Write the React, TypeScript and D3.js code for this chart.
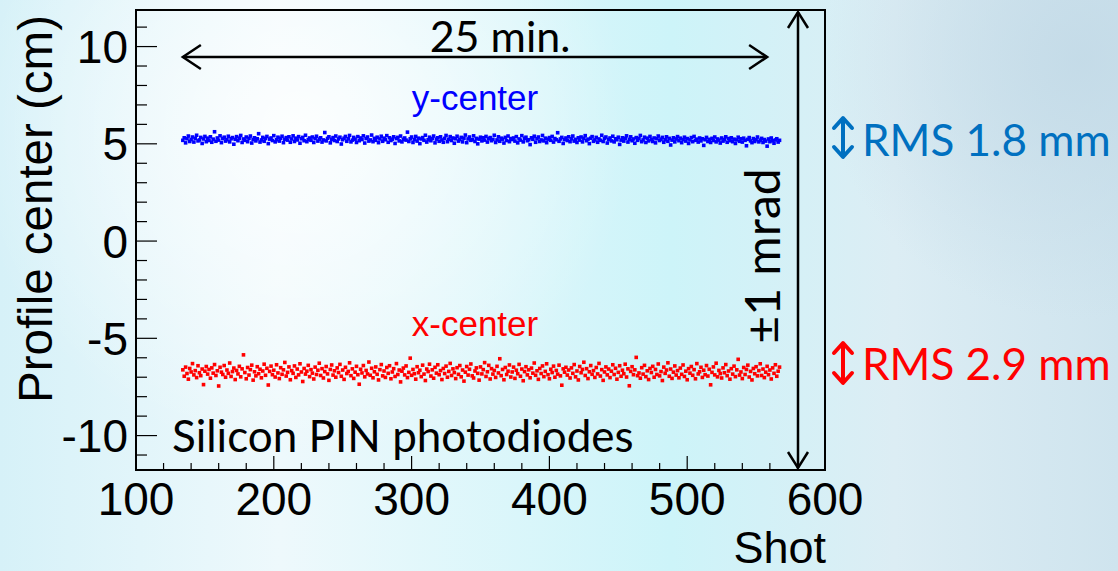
import React from 'react';
import * as d3 from 'd3';

const firstShot = 134;

const yCenter = [
  5.18, 5.31, 5.05, 5.26, 5.40, 5.12, 5.22, 5.35, 5.09, 5.28, 5.44, 5.15, 5.20, 5.33, 5.02, 5.25, 5.38, 5.11, 5.29, 5.17,
  5.36, 5.08, 5.24, 5.62, 5.13, 5.30, 5.19, 5.41, 5.06, 5.27, 5.34, 5.14, 5.21, 5.39, 5.10, 5.26, 5.32, 4.98, 5.23, 5.37,
  5.16, 5.29, 5.43, 5.07, 5.25, 5.18, 5.35, 5.11, 5.28, 5.40, 5.04, 5.22, 5.31, 5.15, 5.26, 5.52, 5.09, 5.20, 5.33, 5.13,
  5.27, 5.38, 5.01, 5.24, 5.30, 5.17, 5.42, 5.10, 5.21, 5.34, 5.14, 5.28, 5.39, 5.06, 5.23, 5.32, 5.19, 5.36, 5.08, 5.25,
  5.41, 5.12, 5.29, 5.20, 5.37, 5.03, 5.26, 5.33, 5.16, 5.44, 5.11, 5.22, 5.30, 5.18, 5.35, 5.07, 5.27, 5.39, 5.14, 5.24,
  5.31, 5.09, 5.20, 5.58, 5.15, 5.28, 5.36, 5.05, 5.23, 5.32, 5.17, 5.40, 5.12, 5.25, 5.34, 4.99, 5.21, 5.29, 5.38, 5.13,
  5.26, 5.43, 5.10, 5.19, 5.33, 5.24, 5.07, 5.37, 5.16, 5.30, 5.22, 5.41, 5.04, 5.27, 5.35, 5.14, 5.20, 5.45, 5.11, 5.28,
  5.18, 5.34, 5.06, 5.25, 5.39, 5.13, 5.29, 5.21, 5.42, 5.08, 5.31, 5.17, 5.24, 5.36, 5.02, 5.27, 5.33, 5.15, 5.40, 5.10,
  5.23, 5.30, 5.19, 5.60, 5.12, 5.26, 5.35, 5.07, 5.22, 5.38, 5.14, 5.29, 5.01, 5.25, 5.32, 5.18, 5.44, 5.09, 5.21, 5.34,
  5.16, 5.27, 5.40, 5.05, 5.24, 5.31, 5.13, 5.36, 5.20, 5.08, 5.28, 5.43, 5.11, 5.23, 5.37, 5.17, 5.30, 5.03, 5.26, 5.39,
  5.14, 5.22, 5.33, 5.10, 5.29, 5.45, 5.06, 5.25, 5.35, 5.18, 5.21, 5.41, 5.12, 5.28, 5.00, 5.24, 5.34, 5.15, 5.31, 5.19,
  5.38, 5.09, 5.26, 5.32, 5.16, 5.23, 5.44, 5.07, 5.20, 5.36, 5.13, 5.29, 5.24, 5.04, 5.33, 5.17, 5.40, 5.11, 5.27, 5.22,
  5.30, 5.14, 5.37, 5.05, 5.25, 5.19, 5.42, 5.10, 5.28, 5.34, 5.16, 5.21, 4.96, 5.31, 5.23, 5.39, 5.08, 5.26, 5.35, 5.12,
  5.20, 5.43, 5.15, 5.29, 5.06, 5.24, 5.32, 5.18, 5.38, 5.09, 5.27, 5.21, 5.57, 5.13, 5.25, 5.33, 5.02, 5.22, 5.30, 5.17,
  5.36, 5.11, 5.26, 5.40, 5.14, 5.23, 5.07, 5.31, 5.19, 5.35, 5.10, 5.28, 5.42, 5.16, 5.24, 5.01, 5.29, 5.37, 5.13, 5.20,
  5.33, 5.08, 5.25, 5.18, 5.44, 5.12, 5.27, 5.35, 5.04, 5.22, 5.30, 5.15, 5.39, 5.10, 5.26, 5.21, 5.34, 4.97, 5.19, 5.31,
  5.14, 5.28, 5.41, 5.09, 5.23, 5.36, 5.16, 5.25, 5.03, 5.32, 5.18, 5.27, 5.43, 5.11, 5.20, 5.34, 5.07, 5.29, 5.15, 5.38,
  5.22, 5.12, 5.30, 5.05, 5.26, 5.40, 5.17, 5.24, 5.33, 5.08, 5.21, 5.36, 5.13, 5.28, 4.94, 5.19, 5.31, 5.10, 5.25, 5.37,
  5.16, 5.29, 5.06, 5.22, 5.34, 5.14, 5.27, 5.02, 5.20, 5.32, 5.11, 5.38, 5.18, 5.24, 5.09, 5.30, 5.15, 5.26, 4.92, 5.21,
  5.33, 5.12, 5.23, 5.07, 5.28, 5.17, 5.35, 5.10, 5.25, 5.19, 5.04, 5.30, 5.14, 5.22, 5.36, 5.08, 5.27, 5.16, 5.31, 5.11,
  5.24, 5.02, 5.20, 5.34, 5.13, 5.26, 5.09, 5.29, 5.18, 4.90, 5.23, 5.32, 5.15, 5.06, 5.27, 5.12, 5.21, 5.35, 5.10, 5.19,
  5.28, 5.07, 5.22, 5.14, 4.88, 5.25, 5.11, 5.30, 5.16, 5.03, 5.20, 5.26, 5.09, 5.18,
];

const xCenter = [
  -6.62, -6.95, -6.48, -6.81, -7.10, -6.55, -6.73, -6.30, -6.88, -6.66, -7.02, -6.41, -6.77, -6.92, -6.58, -7.38, -6.69, -6.45, -6.84, -6.60,
  -7.05, -6.52, -6.79, -6.35, -6.91, -6.67, -7.45, -6.49, -6.74, -6.86, -6.40, -7.00, -6.63, -6.80, -6.27, -6.96, -6.71, -6.53, -7.12, -6.65,
  -6.83, -6.44, -6.98, -6.57, -5.85, -6.76, -7.08, -6.50, -6.89, -6.61, -6.38, -7.15, -6.72, -6.93, -6.46, -6.82, -6.59, -7.03, -6.68, -6.33,
  -6.90, -6.54, -7.40, -6.70, -6.43, -6.87, -6.64, -6.99, -6.36, -6.78, -7.07, -6.51, -6.85, -6.62, -6.24, -6.94, -6.75, -6.47, -7.13, -6.66,
  -6.80, -6.42, -7.01, -6.58, -6.88, -6.31, -6.73, -7.22, -6.55, -6.84, -6.69, -6.39, -6.97, -6.61, -6.79, -7.09, -6.48, -6.86, -6.64, -6.28,
  -6.91, -6.56, -7.04, -6.71, -6.45, -6.83, -7.16, -6.60, -6.37, -6.89, -6.67, -7.00, -6.52, -6.76, -6.34, -6.95, -6.63, -7.11, -6.49, -6.81,
  -6.70, -6.26, -6.92, -6.57, -7.06, -6.74, -6.44, -6.87, -7.36, -6.59, -6.78, -6.40, -6.98, -6.65, -6.83, -6.22, -6.90, -6.54, -7.03, -6.72,
  -6.47, -6.85, -7.14, -6.61, -6.35, -6.93, -6.68, -7.01, -6.50, -6.80, -6.41, -7.08, -6.73, -6.56, -6.96, -6.30, -6.86, -6.63, -7.24, -6.69,
  -6.53, -6.88, -6.42, -7.02, -6.75, -6.02, -6.90, -6.60, -6.82, -7.10, -6.46, -6.77, -6.64, -6.97, -6.38, -6.84, -7.17, -6.58, -6.71, -6.33,
  -6.94, -6.62, -7.05, -6.49, -6.79, -6.36, -6.87, -6.66, -7.12, -6.55, -6.81, -6.43, -7.00, -6.70, -6.29, -6.91, -6.57, -6.76, -7.07, -6.51,
  -6.85, -6.40, -6.98, -6.63, -7.20, -6.74, -6.45, -6.89, -6.59, -6.32, -6.93, -7.04, -6.68, -6.52, -6.80, -7.15, -6.47, -6.83, -6.61, -6.25,
  -6.96, -6.72, -6.39, -7.09, -6.56, -6.84, -6.65, -7.01, -6.44, -6.78, -6.05, -6.92, -6.60, -7.13, -6.50, -6.86, -6.69, -6.37, -6.99, -6.73,
  -6.48, -7.06, -6.64, -6.82, -6.34, -6.95, -6.58, -7.18, -6.71, -6.46, -6.88, -6.62, -7.03, -6.53, -6.79, -6.27, -6.90, -6.67, -7.11, -6.55,
  -6.81, -6.42, -6.97, -6.70, -6.31, -6.87, -7.08, -6.59, -6.76, -6.43, -7.00, -6.65, -6.84, -6.38, -6.93, -7.41, -6.57, -6.74, -6.49, -6.89,
  -6.63, -7.04, -6.52, -6.80, -6.35, -6.98, -6.68, -7.14, -6.45, -6.77, -6.60, -6.23, -6.91, -6.56, -7.07, -6.72, -6.40, -6.85, -6.66, -7.01,
  -6.50, -6.83, -6.29, -6.94, -6.61, -7.16, -6.73, -6.47, -6.88, -6.58, -7.02, -6.69, -6.36, -6.86, -6.54, -7.10, -6.75, -6.41, -6.95, -6.64,
  -6.82, -6.33, -6.99, -6.57, -7.44, -6.70, -6.46, -6.87, -6.62, -5.98, -6.92, -6.78, -7.05, -6.51, -6.84, -6.39, -6.97, -6.67, -7.12, -6.55,
  -6.76, -6.44, -7.00, -6.60, -6.86, -6.32, -6.93, -6.71, -7.17, -6.48, -6.80, -6.63, -6.26, -6.95, -6.58, -7.06, -6.74, -6.42, -6.89, -6.66,
  -7.03, -6.53, -6.85, -6.37, -6.96, -6.69, -7.13, -6.56, -6.79, -6.45, -6.90, -6.61, -7.08, -6.30, -6.83, -6.72, -6.49, -7.01, -6.64, -6.87,
  -6.40, -6.94, -6.59, -7.39, -6.75, -6.47, -6.88, -6.28, -6.98, -6.65, -6.81, -7.04, -6.52, -6.77, -6.35, -6.92, -6.68, -7.10, -6.56, -6.84,
  -6.43, -6.97, -6.62, -6.08, -6.89, -6.73, -7.07, -6.50, -6.86, -6.60, -6.38, -6.99, -6.70, -7.14, -6.55, -6.82, -6.46, -6.93, -6.66, -6.31,
  -6.91, -6.58, -7.02, -6.74, -6.44, -6.87, -6.63, -7.09, -6.52, -6.80, -6.36, -6.95, -6.69, -6.48,
];

const xTicks = [100, 200, 300, 400, 500, 600];
const yTicks = [-10, -5, 0, 5, 10];
const rmsLabels = ['RMS 1.8 mm', 'RMS 2.9 mm'];

const W = 1118;
const H = 571;
const L = 136, R = 825, T = 10, B = 470;
const MS = 3.6;

export default function App() {
  const x = d3.scaleLinear().domain([100, 600]).range([L, R]);
  const y = d3.scaleLinear().domain([-11.77, 11.88]).range([B, T]);
  const xMinor = d3.range(120, 600, 20).filter((v) => v % 100 !== 0);
  const yMinor = d3.range(-11, 12, 1).filter((v) => v % 5 !== 0);
  const arial = '"Liberation Sans", Arial, sans-serif';
  const cal = 'Lato, "Open Sans", sans-serif';
  const blue = '#0000ff';
  const red = '#ff0000';
  const rmsBlue = '#0070c0';

  const hx1 = x(134), hx2 = x(558), hy = 57;
  const vx = 798;

  const dblArrow = (cx: number, y1: number, y2: number, color: string) => (
    <g stroke={color} strokeWidth={4} fill="none" strokeLinecap="round" strokeLinejoin="round">
      <line x1={cx} y1={y1 + 2} x2={cx} y2={y2 - 2} />
      <polyline points={`${cx - 9},${y1 + 10} ${cx},${y1} ${cx + 9},${y1 + 10}`} />
      <polyline points={`${cx - 9},${y2 - 10} ${cx},${y2} ${cx + 9},${y2 - 10}`} />
    </g>
  );

  return (
    <svg width={W} height={H} style={{ position: 'absolute', left: 0, top: 0 }}>
      <defs>
        <linearGradient id="bg" x1="0" y1="0" x2="1" y2="0">
          <stop offset="0" stopColor="#d6f1f8" />
          <stop offset="0.25" stopColor="#eef9fc" />
          <stop offset="0.6" stopColor="#cdf4f9" />
          <stop offset="0.8" stopColor="#dcedf4" />
          <stop offset="1" stopColor="#cfe4ee" />
        </linearGradient>
        <radialGradient id="spot" cx="300" cy="130" r="330" gradientUnits="userSpaceOnUse">
          <stop offset="0" stopColor="#ffffff" stopOpacity="0.85" />
          <stop offset="1" stopColor="#ffffff" stopOpacity="0" />
        </radialGradient>
        <radialGradient id="spot2" cx="1080" cy="60" r="260" gradientUnits="userSpaceOnUse">
          <stop offset="0" stopColor="#c3dae7" stopOpacity="0.9" />
          <stop offset="1" stopColor="#c3dae7" stopOpacity="0" />
        </radialGradient>
      </defs>
      <rect x={0} y={0} width={W} height={H} fill="url(#bg)" />
      <rect x={0} y={0} width={W} height={H} fill="url(#spot)" />
      <rect x={0} y={0} width={W} height={H} fill="url(#spot2)" />

      {/* data */}
      <g fill={blue}>
        {yCenter.map((v, i) => (
          <rect key={'y' + i} x={x(firstShot + i) - MS / 2} y={y(v) - MS / 2} width={MS} height={MS} />
        ))}
      </g>
      <g fill={red}>
        {xCenter.map((v, i) => (
          <rect key={'x' + i} x={x(firstShot + i) - MS / 2} y={y(v) - MS / 2} width={MS} height={MS} />
        ))}
      </g>

      {/* frame */}
      <rect x={L} y={T} width={R - L} height={B - T} fill="none" stroke="#000" strokeWidth={2} />

      {/* ticks */}
      <g stroke="#000" strokeWidth={1.2}>
        {xTicks.map((t) => (
          <line key={'xt' + t} x1={x(t)} x2={x(t)} y1={B} y2={B - 14} />
        ))}
        {xMinor.map((t) => (
          <line key={'xm' + t} x1={x(t)} x2={x(t)} y1={B} y2={B - 7} />
        ))}
        {yTicks.map((t) => (
          <line key={'yt' + t} x1={L} x2={L + 21} y1={y(t)} y2={y(t)} />
        ))}
        {yMinor.map((t) => (
          <line key={'ym' + t} x1={L} x2={L + 11} y1={y(t)} y2={y(t)} />
        ))}
      </g>

      <g fontFamily={arial} fontSize={46} fill="#000">
        {xTicks.map((t) => (
          <text key={'xl' + t} x={x(t)} y={515} textAnchor="middle">{t}</text>
        ))}
        {yTicks.map((t) => (
          <text key={'yl' + t} x={128} y={y(t) + 16.5} textAnchor="end">{t}</text>
        ))}
        <text x={R + 1} y={563} textAnchor="end" fontSize={45}>Shot</text>
        <text x={52} y={15} textAnchor="end" fontSize={47.5} transform="rotate(-90 52 15)">Profile center (cm)</text>
      </g>

      {/* annotations */}
      <g stroke="#000" strokeWidth={2.5} fill="none">
        <line x1={hx1} y1={hy} x2={hx2} y2={hy} />
        <polyline points={`${hx1 + 18},${hy - 12} ${hx1},${hy} ${hx1 + 18},${hy + 12}`} />
        <polyline points={`${hx2 - 18},${hy - 12} ${hx2},${hy} ${hx2 - 18},${hy + 12}`} />
        <line x1={vx} y1={T + 2} x2={vx} y2={B - 2} />
        <polyline points={`${vx - 10},${T + 18} ${vx},${T + 2} ${vx + 10},${T + 18}`} />
        <polyline points={`${vx - 10},${B - 18} ${vx},${B - 2} ${vx + 10},${B - 18}`} />
      </g>
      <text x={500} y={52} textAnchor="middle" fontFamily={cal} fontSize={43} fill="#000">25 min.</text>
      <text x={475} y={110} textAnchor="middle" fontFamily={arial} fontSize={35} fill={blue}>y-center</text>
      <text x={475} y={336} textAnchor="middle" fontFamily={arial} fontSize={35} fill={red}>x-center</text>
      <text x={172} y={452} fontFamily={cal} fontSize={44} fill="#000">Silicon PIN photodiodes</text>
      <text x={780} y={256} textAnchor="middle" fontFamily={cal} fontSize={48} fill="#000" transform="rotate(-90 780 256)">±1 mrad</text>

      {dblArrow(843, 118, 157, rmsBlue)}
      {dblArrow(843, 343, 383, red)}
      <text x={862} y={156} fontFamily={cal} fontSize={44} fill={rmsBlue}>{rmsLabels[0]}</text>
      <text x={862} y={380} fontFamily={cal} fontSize={44} fill={red}>{rmsLabels[1]}</text>
    </svg>
  );
}
